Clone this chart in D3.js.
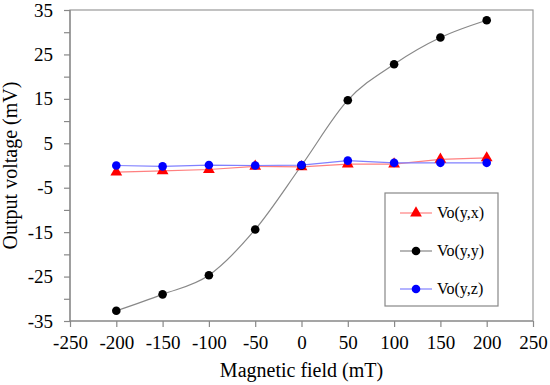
<!DOCTYPE html>
<html><head><meta charset="utf-8">
<script src="https://cdn.jsdelivr.net/npm/d3@7"></script>
</head><body style="margin:0;background:#fff"><svg id="c" width="550" height="385" style="display:block"></svg>
<script>
const fields = [-200,-150,-100,-50,0,50,100,150,200];
const voYX = [-1.5,-1.2,-0.9,-0.2,-0.3,0.3,0.3,1.4,1.7];
const voYY = [-32.7,-29.0,-24.7,-14.4,0,14.7,22.8,28.8,32.7];
const voYZ = [0,-0.2,0.1,0,0.1,1.1,0.6,0.6,0.6];
const xTicks = [-250,-200,-150,-100,-50,0,50,100,150,200,250];
const yTicks = [-35,-30,-25,-20,-15,-10,-5,0,5,10,15,20,25,30,35];
const yLabels = [-35,-25,-15,-5,5,15,25,35];
const seriesNames = ["Vo(y,x)","Vo(y,y)","Vo(y,z)"];

const FONT = "Liberation Serif";
const svg = d3.select("#c");
const L=70,R=533,T=10,B=321;
const x = d3.scaleLinear().domain([-250,250]).range([L,R]);
const y = d3.scaleLinear().domain([-35,35]).range([B,T]);
const fmt = d => String(d);

svg.append("rect").attr("x",L).attr("y",T).attr("width",R-L).attr("height",B-T)
  .attr("fill","none").attr("stroke","#999").attr("stroke-width",1.2);

const xa = svg.append("g").attr("transform",`translate(0,${B})`)
  .call(d3.axisBottom(x).tickValues(xTicks).tickSize(6).tickPadding(9).tickFormat(fmt));
const ya = svg.append("g").attr("transform",`translate(${L},0)`)
  .call(d3.axisLeft(y).tickValues(yTicks).tickSize(6).tickPadding(11)
    .tickFormat(d=>yLabels.includes(d)?fmt(d):""));
[xa,ya].forEach(a=>{
  a.attr("font-family",FONT).attr("font-size",19);
  a.selectAll("path,line").attr("stroke","#888").attr("stroke-width",1.2);
  a.selectAll("text").attr("font-family",FONT).attr("font-size",19).attr("fill","#000");
});
xa.select(".domain").remove();
ya.select(".domain").remove();
svg.append("line").attr("x1",L).attr("x2",L).attr("y1",T).attr("y2",B).attr("stroke","#888").attr("stroke-width",1.2);
svg.append("line").attr("x1",L).attr("x2",R).attr("y1",B).attr("y2",B).attr("stroke","#888").attr("stroke-width",1.2);

svg.append("text").attr("x",(L+R)/2).attr("y",377).attr("text-anchor","middle")
  .attr("font-family",FONT).attr("font-size",20).text("Magnetic field (mT)");
svg.append("text").attr("transform",`translate(17,${(T+B)/2}) rotate(-90)`)
  .attr("text-anchor","middle").attr("font-family",FONT).attr("font-size",20).text("Output voltage (mV)");

const series = [
  {vals:voYX, line:"#ff8080", fill:"#ff0000", marker:"tri", curve:d3.curveLinear},
  {vals:voYY, line:"#888888", fill:"#000000", marker:"circle", curve:d3.curveMonotoneX},
  {vals:voYZ, line:"#8080ff", fill:"#0000ff", marker:"circle", curve:d3.curveLinear}
];
const tri = d3.symbol().type(d3.symbolTriangle).size(60);
function drawMarker(g, m, fill, cx, cy){
  if(m==="tri") g.append("path").attr("d",tri()).attr("transform",`translate(${cx},${cy})`).attr("fill",fill);
  else g.append("circle").attr("cx",cx).attr("cy",cy).attr("r",4.3).attr("fill",fill);
}
const plot = svg.append("g");
series.forEach(s=>{
  const pts = fields.map((f,i)=>[x(f),y(s.vals[i])]);
  plot.append("path").attr("d",d3.line().curve(s.curve)(pts)).attr("fill","none")
    .attr("stroke",s.line).attr("stroke-width",1.2);
});
series.forEach(s=>{
  fields.forEach((f,i)=>drawMarker(plot,s.marker,s.fill,x(f),y(s.vals[i])));
});

const lg = svg.append("g");
lg.append("rect").attr("x",385).attr("y",193).attr("width",113).attr("height",113)
  .attr("fill","#fff").attr("stroke","#888").attr("stroke-width",1.2);
const rows=[213,251,289];
series.forEach((s,i)=>{
  lg.append("line").attr("x1",400).attr("x2",432).attr("y1",rows[i]).attr("y2",rows[i])
    .attr("stroke",s.line).attr("stroke-width",1.2);
  drawMarker(lg,s.marker,s.fill,416,rows[i]);
  lg.append("text").attr("x",437).attr("y",rows[i]+5).attr("font-family",FONT).attr("font-size",16).text(seriesNames[i]);
});
</script></body></html>
